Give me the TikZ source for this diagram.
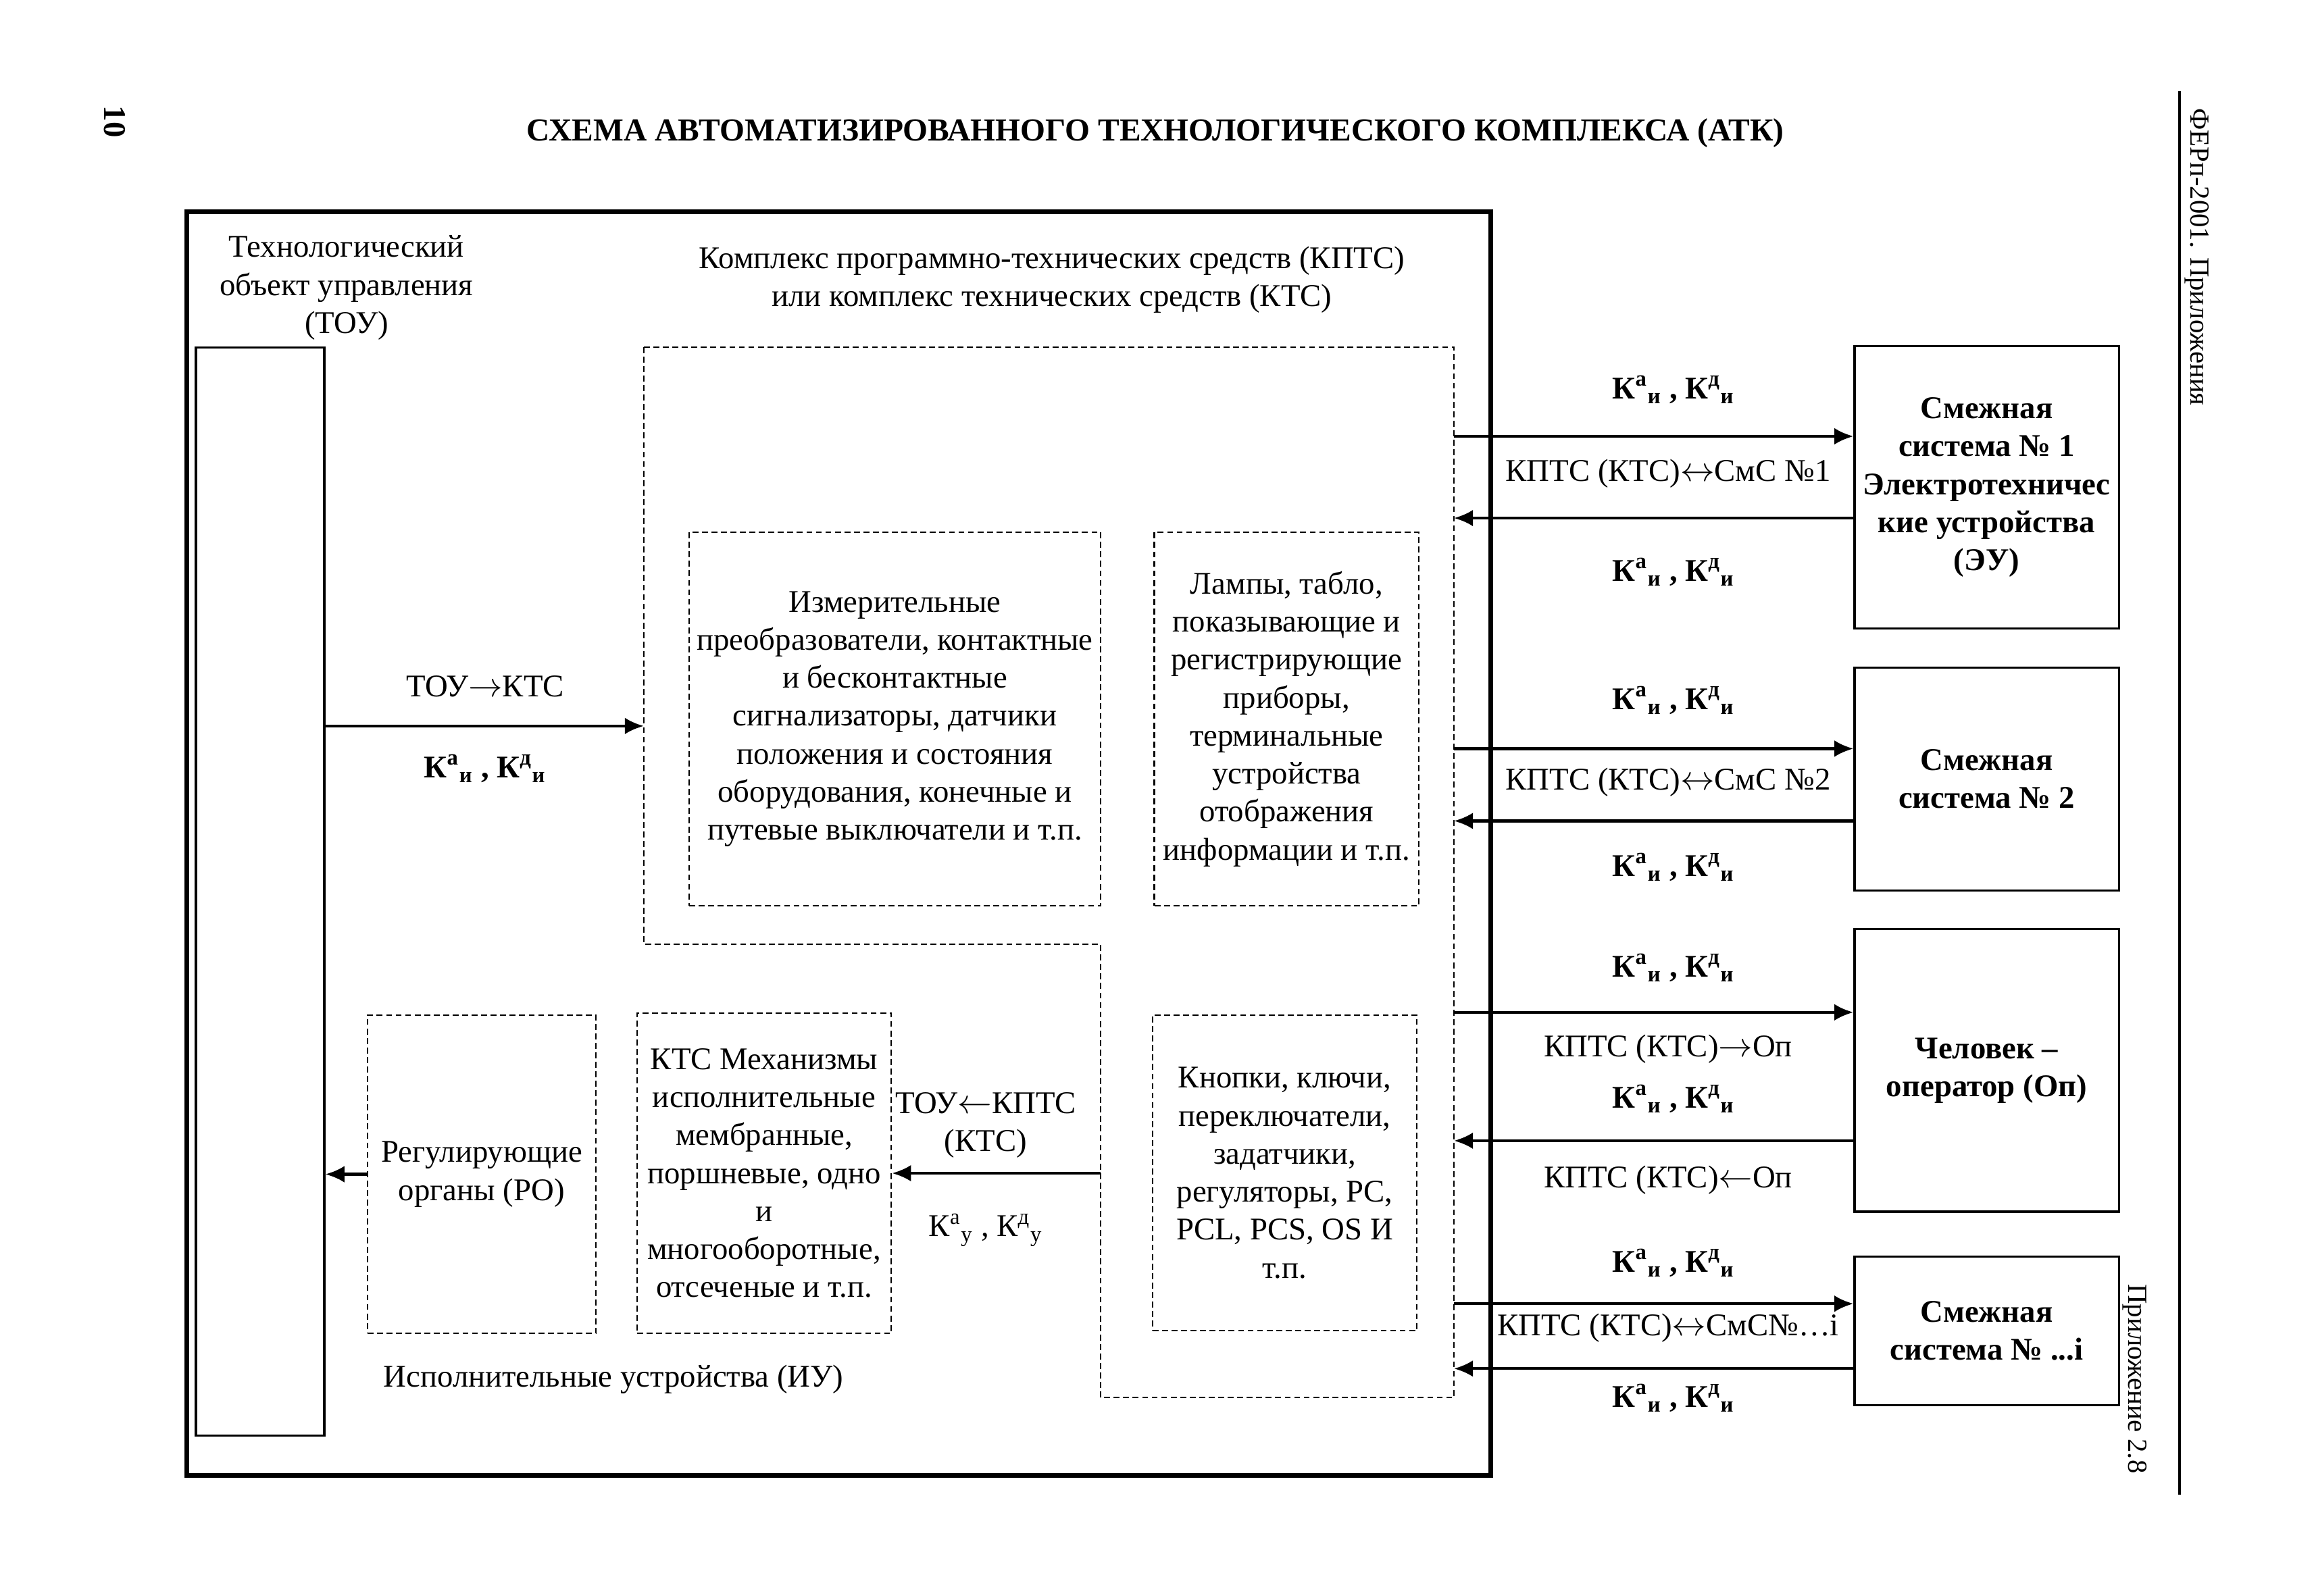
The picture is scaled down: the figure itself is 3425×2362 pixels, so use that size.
\documentclass[tikz,border=0pt]{standalone}
\usepackage{fontspec}
\setmainfont{Liberation Serif}
\usetikzlibrary{
  arrows.meta,
  calc,
  positioning,
}
\tikzstyle{box} = [
  draw,
  rectangle,
  line width=0.9pt,
  align=center,
  inner sep=0pt,
]
\tikzstyle{dbox} = [
  box,
  line width=0.7pt,
  dash pattern=on 2.5pt off 1.5pt,
]
\tikzstyle{bus} = [
  -{Latex[length=8pt,width=7pt]},
  line width=1.2pt,
]
\tikzstyle{lbl} = [
  align=center,
  inner sep=0pt,
]
\tikzstyle{blbl} = [
  lbl,
  font=\fontsize{13.3}{16}\selectfont\bfseries,
]
\newcommand{\ksig}[2]{К\textsuperscript{#1}\textsubscript{#2}}

\begin{document}
\begin{tikzpicture}[x=0.01cm, y=-0.01cm, font=\fontsize{13.3}{16}\selectfont]
    \useasboundingbox (0,0) rectangle (3425,2362);

    % page header
    \node[rotate=-90, font=\fontsize{13.3}{16}\selectfont\bfseries] (pagenum) at (170,180) {10};
    \node[font=\fontsize{13.5}{16}\selectfont\bfseries] (title) at (1710,197) {СХЕМА АВТОМАТИЗИРОВАННОГО ТЕХНОЛОГИЧЕСКОГО КОМПЛЕКСА (АТК)};
    \node[rotate=-90, anchor=west, font=\fontsize{11.6}{14}\selectfont] (ferp) at (3252,148) {ФЕРп-2001. Приложения};
    \node[rotate=-90, anchor=west, font=\fontsize{11.6}{14}\selectfont] (appx) at (3160,1889) {Приложение 2.8};
    \draw[line width=1pt] (3226,135) -- (3226,2213);

    % ATK frame
    \node[draw, line width=2.2pt, minimum width=19.29cm, minimum height=18.70cm, inner sep=0pt] (atk) at (1241.5,1249) {};
    \node[box, minimum width=1.90cm, minimum height=16.10cm] (tou) at (385,1320) {};
    \node[lbl] (toulbl) at (513,426) {Технологический\\объект управления\\(ТОУ)};

    % KPTS
    \node[minimum width=11.97cm, minimum height=15.53cm, inner sep=0pt] (kpts) at (1552.5,1291.5) {};
    \node[lbl] (kptslbl) at (1557,414) {Комплекс программно-технических средств (КПТС)\\или комплекс технических средств (КТС)};
    \coordinate (cut) at (1629,1398);
    \draw[line width=0.7pt, dash pattern=on 2.5pt off 1.5pt] (kpts.north west) -- (kpts.north east) -- (kpts.south east) -- (kpts.south east -| cut) -- (cut) -- (cut -| kpts.west) -- cycle;

    \node[dbox, minimum width=6.09cm, minimum height=5.53cm] (izm) at (1324.5,1064.5) {Измерительные\\преобразователи, контактные\\и бесконтактные\\сигнализаторы, датчики\\положения и состояния\\оборудования, конечные и\\путевые выключатели и т.п.};
    \node[dbox, minimum width=3.91cm, minimum height=5.53cm, right=0.77cm of izm] (lamp) {Лампы, табло,\\показывающие и\\регистрирующие\\приборы,\\терминальные\\устройства\\отображения\\информации и т.п.};
    \node[dbox, minimum width=3.91cm, minimum height=4.67cm] (knop) at (1901.5,1736.5) {Кнопки, ключи,\\переключатели,\\задатчики,\\регуляторы, PC,\\PCL, PCS, OS И\\т.п.};

    % IU
    \node[dbox, minimum width=3.76cm, minimum height=4.74cm] (mech) at (1131,1737) {КТС Механизмы\\исполнительные\\мембранные,\\поршневые, одно\\и\\многооборотные,\\отсеченые и т.п.};
    \node[dbox, minimum width=3.38cm, minimum height=4.71cm] (ro) at (713,1738.5) {Регулирующие\\органы (РО)};
    \node[lbl] (iulbl) at (908,2042) {Исполнительные устройства (ИУ)};

    \coordinate (tk) at ([yshift=2.45cm]tou.east);
    \draw[bus] (tk) -- (tk -| kpts.west);
    \node[lbl] (tklbl) at (718,1016) {ТОУ$\rightarrow$КТС};
    \node[blbl] (tksig) at (718,1138) {\ksig{а}{и} , \ksig{д}{и}};

    \draw[bus] (cut |- mech.east) -- (mech.east);
    \node[lbl] (ktlbl) at (1459,1666) {ТОУ$\leftarrow$КПТС\\(КТС)};
    \node[lbl] (ktsig) at (1459,1821) {\ksig{а}{у} , \ksig{д}{у}};
    \draw[bus] (ro.west) -- (ro.west -| tou.east);

    % adjacent systems
    \node[box, minimum width=3.91cm, minimum height=4.17cm, font=\fontsize{13.3}{16}\selectfont\bfseries] (sys1) at (2940.5,721.5) {Смежная\\система № 1\\Электротехничес\\кие устройства\\(ЭУ)};
    \node[box, minimum width=3.91cm, minimum height=3.30cm, font=\fontsize{13.3}{16}\selectfont\bfseries, below=0.55cm of sys1] (sys2) {Смежная\\система № 2};
    \node[box, minimum width=3.91cm, minimum height=4.18cm, font=\fontsize{13.3}{16}\selectfont\bfseries, below=0.54cm of sys2] (oper) {Человек –\\оператор (Оп)};
    \node[box, minimum width=3.91cm, minimum height=2.20cm, font=\fontsize{13.3}{16}\selectfont\bfseries, below=0.63cm of oper] (sysi) {Смежная\\система № ...i};

    \coordinate (s1a) at ([yshift=0.755cm]sys1.west);
    \coordinate (s1b) at ([yshift=-0.455cm]sys1.west);
    \coordinate (s2a) at ([yshift=0.45cm]sys2.west);
    \coordinate (s2b) at ([yshift=-0.62cm]sys2.west);
    \coordinate (s3a) at ([yshift=0.86cm]oper.west);
    \coordinate (s3b) at ([yshift=-1.04cm]oper.west);
    \coordinate (s4a) at ([yshift=0.40cm]sysi.west);
    \coordinate (s4b) at ([yshift=-0.56cm]sysi.west);
    \draw[bus] (s1a -| kpts.east) -- (s1a);
    \draw[bus] (s1b) -- (s1b -| kpts.east);
    \draw[bus] (s2a -| kpts.east) -- (s2a);
    \draw[bus] (s2b) -- (s2b -| kpts.east);
    \draw[bus] (s3a -| kpts.east) -- (s3a);
    \draw[bus] (s3b) -- (s3b -| kpts.east);
    \draw[bus] (s4a -| kpts.east) -- (s4a);
    \draw[bus] (s4b) -- (s4b -| kpts.east);

    \node[blbl] (s1asig) at (2477,577) {\ksig{а}{и} , \ksig{д}{и}};
    \node[lbl] (s1txt) at (2469,701) {КПТС (КТС)$\leftrightarrow$СмС №1};
    \node[blbl] (s1bsig) at (2477,847) {\ksig{а}{и} , \ksig{д}{и}};
    \node[blbl] (s2asig) at (2477,1037) {\ksig{а}{и} , \ksig{д}{и}};
    \node[lbl] (s2txt) at (2469,1158) {КПТС (КТС)$\leftrightarrow$СмС №2};
    \node[blbl] (s2bsig) at (2477,1284) {\ksig{а}{и} , \ksig{д}{и}};
    \node[blbl] (s3asig) at (2477,1433) {\ksig{а}{и} , \ksig{д}{и}};
    \node[lbl] (s3txt) at (2469,1553) {КПТС (КТС)$\rightarrow$Оп};
    \node[blbl] (s3bsig) at (2477,1627) {\ksig{а}{и} , \ksig{д}{и}};
    \node[lbl] (s3back) at (2469,1747) {КПТС (КТС)$\leftarrow$Оп};
    \node[blbl] (s4asig) at (2477,1870) {\ksig{а}{и} , \ksig{д}{и}};
    \node[lbl] (s4txt) at (2469,1966) {КПТС (КТС)$\leftrightarrow$СмС№…i};
    \node[blbl] (s4bsig) at (2477,2070) {\ksig{а}{и} , \ksig{д}{и}};
\end{tikzpicture}
\end{document}
